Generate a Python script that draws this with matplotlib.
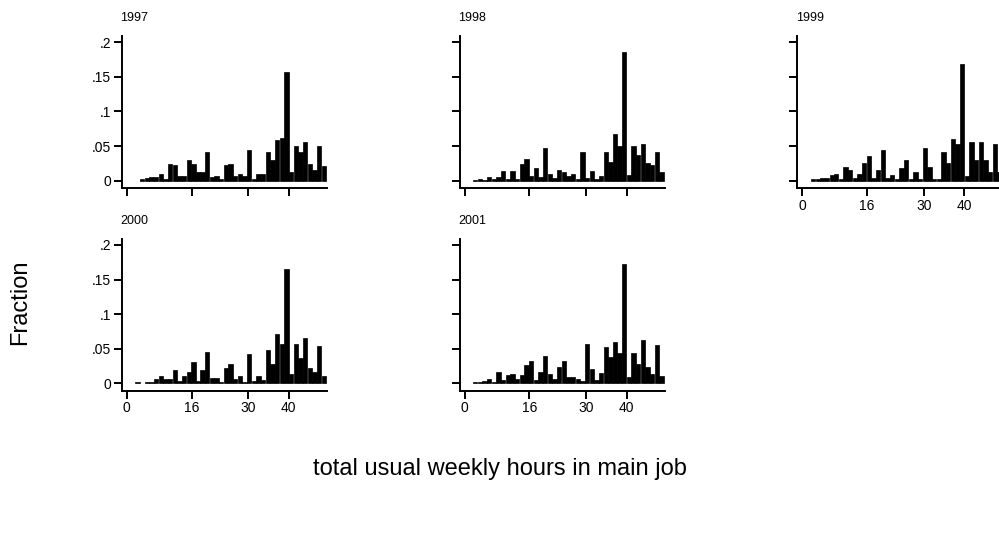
import numpy as np
import matplotlib.pyplot as plt

plt.rcParams['font.family'] = ['Liberation Sans', 'DejaVu Sans']

# histogram bins (hours), shared by every year
bin_start = 2.1
bin_width = 1.15

years = ['1997', '1998', '1999', '2000', '2001']

frac_1997 = [0.0, 0.002, 0.004, 0.005, 0.006, 0.010, 0.003, 0.024, 0.022, 0.007,
             0.007, 0.030, 0.024, 0.0125, 0.0125, 0.041, 0.005, 0.007, 0.002, 0.022,
             0.024, 0.007, 0.010, 0.007, 0.044, 0.003, 0.010, 0.010, 0.041, 0.030,
             0.059, 0.062, 0.157, 0.0125, 0.050, 0.041, 0.056, 0.024, 0.015, 0.050,
             0.021]
frac_1998 = [0.001, 0.003, 0.001, 0.006, 0.002, 0.006, 0.014, 0.002, 0.014, 0.002,
             0.024, 0.032, 0.007, 0.018, 0.005, 0.047, 0.009, 0.004, 0.015, 0.012,
             0.007, 0.009, 0.003, 0.042, 0.004, 0.014, 0.003, 0.007, 0.042, 0.027,
             0.067, 0.050, 0.186, 0.008, 0.050, 0.037, 0.053, 0.025, 0.022, 0.042,
             0.012]
frac_1999 = [0.002, 0.003, 0.004, 0.004, 0.008, 0.010, 0.002, 0.020, 0.015, 0.004,
             0.010, 0.025, 0.036, 0.004, 0.015, 0.044, 0.004, 0.008, 0.003, 0.018,
             0.030, 0.003, 0.012, 0.002, 0.047, 0.020, 0.002, 0.003, 0.041, 0.025,
             0.060, 0.053, 0.169, 0.007, 0.056, 0.030, 0.056, 0.030, 0.013, 0.053,
             0.012]
frac_2000 = [0.0015, 0.0, 0.002, 0.002, 0.007, 0.010, 0.007, 0.006, 0.019, 0.003,
             0.010, 0.016, 0.031, 0.003, 0.019, 0.045, 0.008, 0.008, 0.002, 0.022,
             0.028, 0.007, 0.010, 0.002, 0.042, 0.004, 0.010, 0.005, 0.048, 0.028,
             0.071, 0.057, 0.165, 0.013, 0.057, 0.037, 0.066, 0.022, 0.016, 0.054,
             0.010]
frac_2001 = [0.002, 0.002, 0.003, 0.007, 0.002, 0.017, 0.005, 0.012, 0.014, 0.006,
             0.012, 0.026, 0.032, 0.005, 0.017, 0.040, 0.014, 0.007, 0.023, 0.032,
             0.009, 0.009, 0.006, 0.004, 0.057, 0.021, 0.005, 0.015, 0.052, 0.038,
             0.060, 0.044, 0.172, 0.009, 0.044, 0.028, 0.062, 0.024, 0.014, 0.055,
             0.011]

fractions = [frac_1997, frac_1998, frac_1999, frac_2000, frac_2001]

x_ticks = [0, 16, 30, 40]
y_ticks = [0, 0.05, 0.1, 0.15, 0.2]
y_tick_labels = ['0', '.05', '.1', '.15', '.2']

W, H = 999, 540
fig = plt.figure(figsize=(W / 100, H / 100), dpi=100)

# panel grid in pixels: (left, top) of each plot region
col_left = [121.7, 459.5, 797.3]
row_top = [36.0, 238.7]
panel_w, panel_h = 205.6, 152.3
slots = [(0, 0), (0, 1), (0, 2), (1, 0), (1, 1)]

# x labels only where nothing sits below
show_xlab = [False, False, True, True, True]

for i, (year, frac) in enumerate(zip(years, fractions)):
    r, c = slots[i]
    left, top = col_left[c], row_top[r]
    ax = fig.add_axes([left / W, 1 - (top + panel_h) / H, panel_w / W, panel_h / H])

    frac = np.array(frac)
    lefts = bin_start + bin_width * np.arange(len(frac))
    keep = frac > 0
    ax.bar(lefts[keep], frac[keep], width=bin_width * 0.93, align='edge',
           color='black', edgecolor='black', linewidth=0.5)

    ax.set_xlim(-1.25, 49.5)
    ax.set_ylim(-0.011, 0.209)
    for side in ['top', 'right']:
        ax.spines[side].set_visible(False)
    for side in ['left', 'bottom']:
        ax.spines[side].set_linewidth(1.4)

    ax.set_xticks(x_ticks)
    ax.set_yticks(y_ticks)
    ax.tick_params(length=6, width=1.4, labelsize=10, pad=1.5)
    if show_xlab[i]:
        ax.set_xticklabels([str(t) for t in x_ticks])
    else:
        ax.set_xticklabels([])
    if c == 0:
        ax.set_yticklabels(y_tick_labels)
    else:
        ax.set_yticklabels([])

    fig.text((left - 1.5) / W, 1 - (top - 18) / H, year, fontsize=9,
             ha='left', va='center')

fig.text(20 / W, 1 - 302 / H, 'Fraction', rotation=90, fontsize=17,
         ha='center', va='center')
fig.text(500 / W, 1 - 469 / H, 'total usual weekly hours in main job',
         fontsize=17, ha='center', va='center')

fig.savefig('out.png', dpi=100)
